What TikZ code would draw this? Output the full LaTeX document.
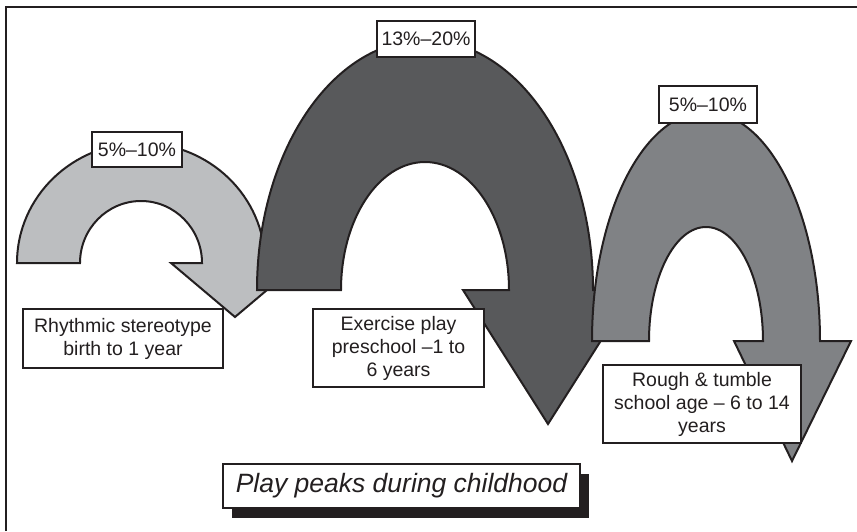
\documentclass[tikz,border=0pt]{standalone}
\usepackage{fontspec}
\setmainfont{Liberation Sans}
\usetikzlibrary{shadows}
\definecolor{ink}{HTML}{231F20}
\definecolor{lightarc}{HTML}{BCBEC0}
\definecolor{darkarc}{HTML}{58595B}
\definecolor{midarc}{HTML}{808285}

\begin{document}
\begin{tikzpicture}[x=1pt,y=-1pt,
  arcshape/.style={draw=ink,line width=2pt,line join=miter},
  labelbox/.style={draw=ink,line width=2pt,fill=white,inner sep=0pt,align=center,
    text=ink,font=\fontsize{19.5}{23}\selectfont}]
  \useasboundingbox (0,0) rectangle (857,531);
  % frame
  \draw[ink,line width=2.6pt] (6,531) -- (6,7) -- (857,7);
  % rhythmic stereotype arc
  \draw[arcshape,fill=lightarc] (17,263)
    arc[start angle=180,end angle=360,x radius=124,y radius=120]
    -- (299,263) -- (235,317) -- (171,263) -- (202,263)
    arc[start angle=360,end angle=180,x radius=61,y radius=62] -- cycle;
  % exercise play arc
  \draw[arcshape,fill=darkarc] (257,290)
    arc[start angle=180,end angle=360,x radius=168,y radius=250]
    -- (633,290) -- (548,424) -- (463,290) -- (509,290)
    arc[start angle=360,end angle=180,x radius=84,y radius=128] -- cycle;
  % rough and tumble arc
  \draw[arcshape,fill=midarc] (592,341)
    arc[start angle=180,end angle=360,x radius=114,y radius=229]
    -- (851,341) -- (792,461) -- (734,341) -- (763,341)
    arc[start angle=360,end angle=180,x radius=57,y radius=114] -- cycle;
  % percentages
  \node[labelbox,minimum width=90,minimum height=35] (pctA) at (137,149.5) {5\%--10\%};
  \node[labelbox,minimum width=98,minimum height=36] (pctB) at (426,39) {13\%--20\%};
  \node[labelbox,minimum width=98,minimum height=37] (pctC) at (708,104.5) {5\%--10\%};
  % age groups
  \node[labelbox,minimum width=200,minimum height=59] (descA) at (123,338.5)
    {Rhythmic stereotype\\birth to 1 year};
  \node[labelbox,minimum width=171,minimum height=78] (descB) at (398.5,348)
    {Exercise play\\preschool --1 to\\6 years};
  \node[labelbox,minimum width=198,minimum height=78] (descC) at (702,404)
    {Rough \& tumble\\school age -- 6 to 14\\years};
  % caption
  \node[labelbox,font=\fontsize{26.5}{30}\selectfont\itshape,minimum width=357,minimum height=44,
    drop shadow={shadow xshift=9pt,shadow yshift=-10pt,fill=ink,opacity=1}] (caption) at (401.5,486)
    {Play peaks during childhood};
\end{tikzpicture}
\end{document}
